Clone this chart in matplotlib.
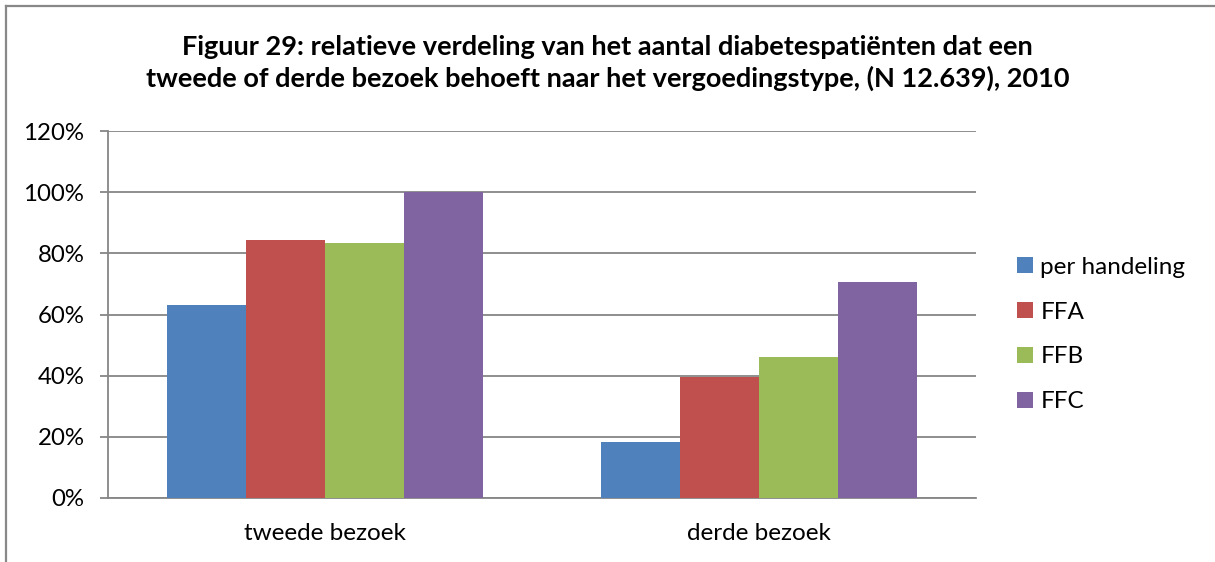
import matplotlib
matplotlib.use("Agg")
import matplotlib.pyplot as plt
from matplotlib.lines import Line2D
import numpy as np

categories = ["tweede bezoek", "derde bezoek"]
series_names = ["per handeling", "FFA", "FFB", "FFC"]
per_handeling = [63.0, 18.4]
ffa = [84.3, 39.5]
ffb = [83.4, 46.1]
ffc = [100.0, 70.6]
series_values = [per_handeling, ffa, ffb, ffc]
colors = ["#4F81BD", "#C0504D", "#9BBB59", "#8064A2"]
yticks = [0, 20, 40, 60, 80, 100, 120]
ytick_labels = ["0%", "20%", "40%", "60%", "80%", "100%", "120%"]
title = ("Figuur 29: relatieve verdeling van het aantal diabetespatiënten dat een\n"
         "tweede of derde bezoek behoeft naar het vergoedingstype, (N 12.639), 2010")

plt.rcParams['font.family'] = ['Lato', 'DejaVu Sans']

W, H = 1215, 562
fig = plt.figure(figsize=(W / 100, H / 100), dpi=100)
ax = fig.add_axes([108 / W, 1 - 498 / H, (975.5 - 108) / W, (498 - 131) / H])

grid_color = "#868686"
x = np.arange(len(categories))
bw = 0.182
for i, (name, vals, c) in enumerate(zip(series_names, series_values, colors)):
    ax.bar(x + (i - 1.5) * bw, vals, width=bw, color=c, label=name,
           edgecolor="none", zorder=3)

ax.set_xlim(-0.5, 1.5)
ax.set_ylim(0, 120)
ax.set_yticks(yticks)
ax.set_yticklabels(ytick_labels)
ax.set_xticks(x)
ax.set_xticklabels(categories)
ax.yaxis.grid(True, color=grid_color, linewidth=1.3, zorder=0)
ax.set_axisbelow(True)
for s in ["top", "right"]:
    ax.spines[s].set_visible(False)
for s in ["left", "bottom"]:
    ax.spines[s].set_color(grid_color)
    ax.spines[s].set_linewidth(1.3)
ax.tick_params(axis="y", length=6, color=grid_color, width=1.3, labelsize=17.3, pad=11)
ax.tick_params(axis="x", length=0, labelsize=17.5, pad=18)

fig.legend(loc="center left", bbox_to_anchor=(1017 / W, 1 - 334.5 / H),
           frameon=False, fontsize=17.5, handlelength=0.66, handleheight=0.66,
           handletextpad=0.3, labelspacing=0.98, borderpad=0, borderaxespad=0)

fig.text(0.5, 1 - 63 / H, title, ha="center", va="center", fontsize=19.5,
         fontweight="bold", linespacing=1.3)

# outer chart border (top and left visible)
fig.add_artist(Line2D([6 / W, 1], [1 - 6 / H, 1 - 6 / H], transform=fig.transFigure,
                      color="#888888", linewidth=1.6))
fig.add_artist(Line2D([6 / W, 6 / W], [0, 1 - 6 / H], transform=fig.transFigure,
                      color="#888888", linewidth=1.6))

fig.savefig("out.png", dpi=100)
